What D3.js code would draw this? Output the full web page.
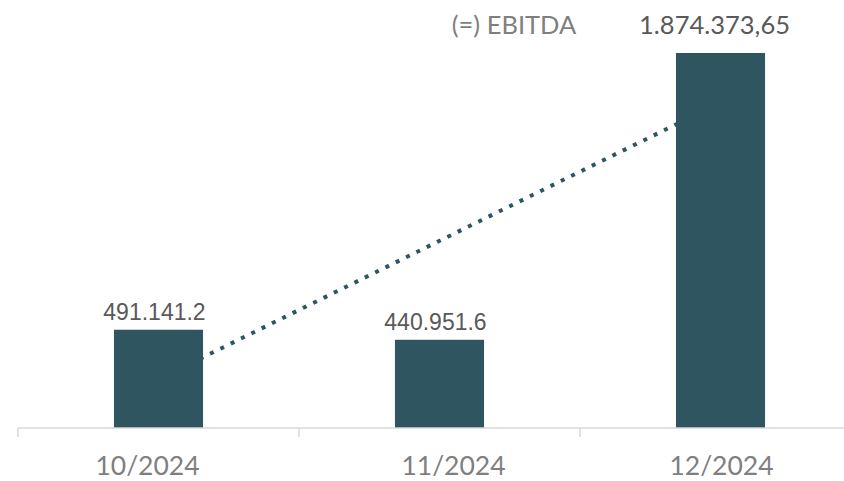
<!DOCTYPE html>
<html>
<head>
<meta charset="utf-8">
<script src="https://cdn.jsdelivr.net/npm/d3@7"></script>
<style>
  body { margin: 0; background: #fff; }
  svg { display: block; }
</style>
</head>
<body>
<script>
// chart data
const categories = ["10/2024", "11/2024", "12/2024"];
const values = [491141.2, 440951.6, 1874373.65];
const valueLabels = ["491.141.2", "440.951.6", "1.874.373,65"];
// linear trendline, at first and last category
const trendValues = [244000, 1627000];
const seriesName = "(=) EBITDA";

const width = 844, height = 481;
const baseY = 428;
// the original places its category labels slightly off the bar centres
const catLabelShift = [-11, 14, 1];

const svg = d3.select("body").append("svg")
  .attr("width", width)
  .attr("height", height);

const x = d3.scaleBand()
  .domain(categories)
  .range([18, 861])
  .paddingInner(0.683)
  .paddingOuter(0.3415);

const y = d3.scaleLinear()
  .domain([0, 1874373.65])
  .range([baseY, 53]);

const barColor = "#2f5561";

// trendline (drawn behind the bars)
const cx = c => x(c) + x.bandwidth() / 2;
svg.append("line")
  .attr("x1", cx(categories[0]))
  .attr("y1", y(trendValues[0]))
  .attr("x2", cx(categories[categories.length - 1]))
  .attr("y2", y(trendValues[1]))
  .attr("stroke", barColor)
  .attr("stroke-width", 4)
  .attr("stroke-dasharray", "4 7.5");

// bars
svg.selectAll("rect.bar")
  .data(values)
  .enter()
  .append("rect")
  .attr("class", "bar")
  .attr("x", (_, i) => x(categories[i]))
  .attr("y", d => y(d))
  .attr("width", x.bandwidth())
  .attr("height", d => baseY - y(d))
  .attr("fill", barColor);

// axis
const axis = svg.append("g").attr("transform", `translate(0,${baseY})`);
axis.append("line")
  .attr("x1", 18).attr("x2", width)
  .attr("stroke", "#d9d9d9").attr("stroke-width", 1.5);
axis.selectAll("line.tick")
  .data(categories)
  .enter()
  .append("line")
  .attr("class", "tick")
  .attr("x1", d => x(d) - x.step() * x.paddingOuter())
  .attr("x2", d => x(d) - x.step() * x.paddingOuter())
  .attr("y1", 0).attr("y2", 9)
  .attr("stroke", "#d9d9d9").attr("stroke-width", 1.5);
axis.selectAll("text.cat")
  .data(categories)
  .enter()
  .append("text")
  .attr("class", "cat")
  .attr("x", (d, i) => cx(d) + catLabelShift[i])
  .attr("y", 47)
  .attr("text-anchor", "middle")
  .attr("font-family", "Lato, sans-serif")
  .attr("font-size", 26.5)
  .attr("fill", "#7f7f7f")
  .text(d => d);

// value labels
svg.selectAll("text.val")
  .data(values)
  .enter()
  .append("text")
  .attr("class", "val")
  .attr("x", (_, i) => cx(categories[i]) - (i === 2 ? 6 : 4))
  .attr("y", (d, i) => y(d) - (i === 2 ? 19 : 10))
  .attr("text-anchor", "middle")
  .attr("font-family", (_, i) => i === 2 ? "Lato, sans-serif" : "Liberation Sans, Arial, sans-serif")
  .attr("font-size", (_, i) => i === 2 ? 25.5 : 23)
  .attr("fill", "#595959")
  .text((_, i) => valueLabels[i]);

// series title
svg.append("text")
  .attr("x", 514)
  .attr("y", 34)
  .attr("text-anchor", "middle")
  .attr("font-family", "Lato, sans-serif")
  .attr("font-size", 25.5)
  .attr("fill", "#7f7f7f")
  .text(seriesName);
</script>
</body>
</html>
